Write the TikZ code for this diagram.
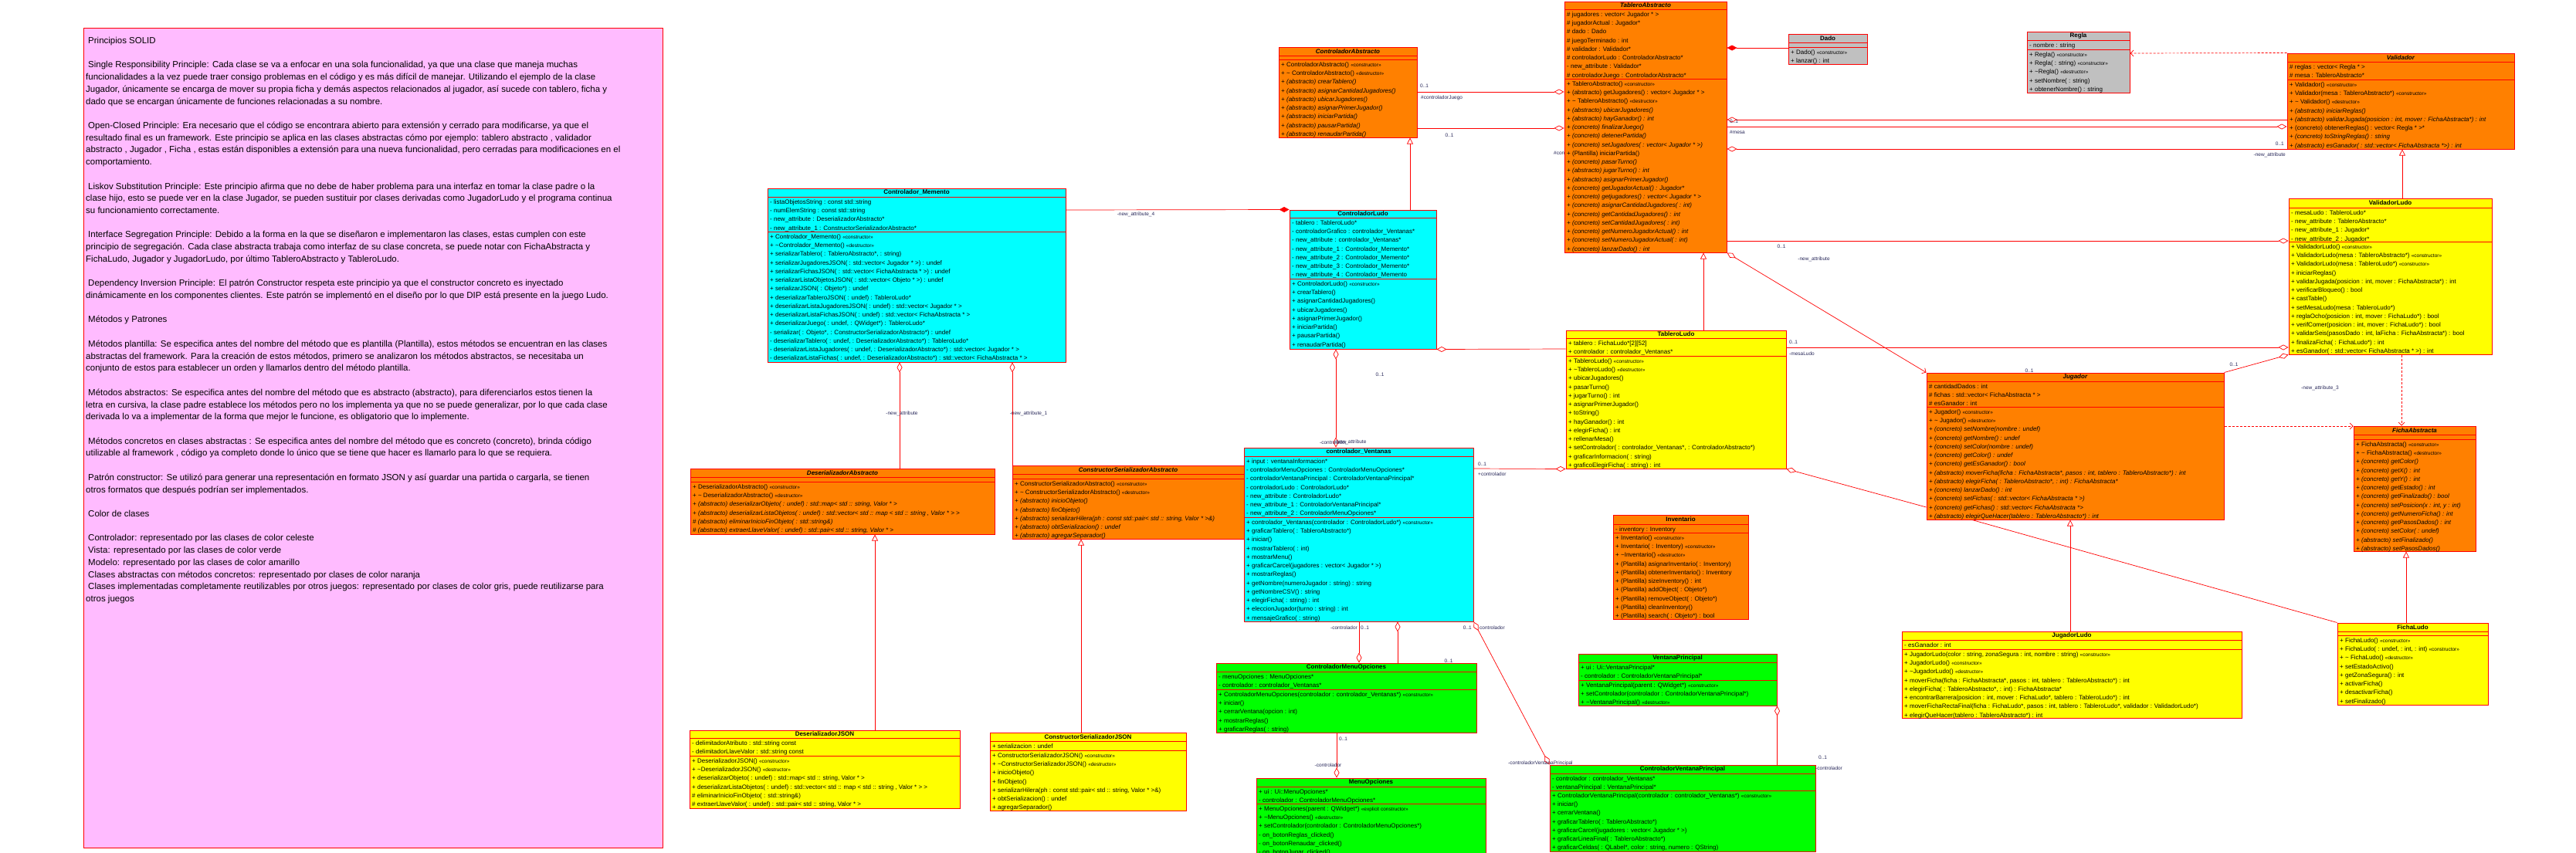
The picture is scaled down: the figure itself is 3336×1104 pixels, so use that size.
\documentclass[tikz,border=0pt]{standalone}
\usepackage{fontspec}
\setmainfont{Liberation Sans}
\usetikzlibrary{arrows.meta,fit}
\definecolor{cOr}{RGB}{255,128,0}
\definecolor{cCy}{RGB}{0,255,255}
\definecolor{cYe}{RGB}{255,255,0}
\definecolor{cGr}{RGB}{0,255,0}
\definecolor{cGy}{RGB}{192,192,192}
\definecolor{cPk}{RGB}{255,187,255}
\definecolor{cRd}{RGB}{255,0,0}
\definecolor{cLb}{RGB}{40,40,90}
\newcommand\rowfont{\fontsize{8}{11.25}\selectfont}
\newcommand\stereo[1]{{\fontsize{6.5}{7}\selectfont «#1»}}
\newcommand\tld{\textasciitilde}
\newcommand\ii[1]{\textit{#1}}
\tikzset{
  cls/.style={draw=cRd, line width=1pt, inner sep=0pt},
  sepl/.style={draw=cRd, line width=1pt},
  hdr/.style={font=\fontsize{8}{9}\selectfont\bfseries, inner sep=0pt},
  rowtext/.style={font=\rowfont, align=left, inner sep=0pt, anchor=north west},
  notetext/.style={font=\fontsize{11.5}{15.72}\selectfont, align=left, inner sep=0pt, anchor=north west},
  lab/.style={font=\fontsize{6.5}{7}\selectfont, text=cLb, inner sep=0pt},
  conn/.style={draw=cRd, line width=0.7pt},
  odia/.tip={Diamond[fill=white,length=13pt,width=7pt]},
  fdia/.tip={Diamond[length=13pt,width=7pt]},
  tri/.tip={Triangle[fill=white,length=8pt,width=8pt]},
  barb/.tip={Straight Barb[length=4pt,width=8pt]},
  dep/.style={draw=cRd, line width=0.7pt, dash pattern=on 3pt off 2pt, -barb},
}
% name, x1, y1, x2, y-header, y-attrs, y2, colour, header
\newcommand\uclass[9]{%
  \node[cls, fill=#8, fit={(#2,#3) (#4,#7)}] (#1) {};
  \draw[sepl] (#2,#5) -- (#4,#5);
  \draw[sepl] (#2,#6) -- (#4,#6);
  \node[hdr] (#1-h) at ({(#2+#4)/2},{(#3+#5)/2}) {#9};
  \coordinate (#1-a) at ({#2+3},{#5+0.5});
  \coordinate (#1-m) at ({#2+3},{#6+0.5});
}
\newcommand\utext[2]{\node[rowtext] (#1-t) at (#1) {\rule{0pt}{8.6pt}#2};}
\begin{document}
\begin{tikzpicture}[x=1pt,y=-1pt]
\fill[white] (0,0) rectangle (3336,1104);
\useasboundingbox (0,0) rectangle (3336,1104);

% note
\node[fit={(108,36) (858,1098)}, draw=cRd, fill=cPk, inner sep=0pt, line width=0.8pt] (note) {};
\node[notetext] (notetxt) at (111,44) {\rule{0pt}{12.2pt}\hspace{3pt}Principios SOLID\\
\mbox{}\\
\hspace{3pt}Single Responsibility Principle: Cada clase se va a enfocar en una sola funcionalidad, ya que una clase que maneja muchas\\
funcionalidades a la vez puede traer consigo problemas en el código y es más difícil de manejar. Utilizando el ejemplo de la clase\\
Jugador, únicamente se encarga de mover su propia ficha y demás aspectos relacionados al jugador, así sucede con tablero, ficha y\\
dado que se encargan únicamente de funciones relacionadas a su nombre.\\
\mbox{}\\
\hspace{3pt}Open-Closed Principle: Era necesario que el código se encontrara abierto para extensión y cerrado para modificarse, ya que el\\
resultado final es un framework. Este principio se aplica en las clases abstractas cómo por ejemplo: tablero abstracto , validador\\
abstracto , Jugador , Ficha , estas están disponibles a extensión para una nueva funcionalidad, pero cerradas para modificaciones en el\\
comportamiento.\\
\mbox{}\\
\hspace{3pt}Liskov Substitution Principle: Este principio afirma que no debe de haber problema para una interfaz en tomar la clase padre o la\\
clase hijo, esto se puede ver en la clase Jugador, se pueden sustituir por clases derivadas como JugadorLudo y el programa continua\\
su funcionamiento correctamente.\\
\mbox{}\\
\hspace{3pt}Interface Segregation Principle: Debido a la forma en la que se diseñaron e implementaron las clases, estas cumplen con este\\
principio de segregación. Cada clase abstracta trabaja como interfaz de su clase concreta, se puede notar con FichaAbstracta y\\
FichaLudo, Jugador y JugadorLudo, por último TableroAbstracto y TableroLudo.\\
\mbox{}\\
\hspace{3pt}Dependency Inversion Principle: El patrón Constructor respeta este principio ya que el constructor concreto es inyectado\\
dinámicamente en los componentes clientes. Este patrón se implementó en el diseño por lo que DIP está presente en la juego Ludo.\\
\mbox{}\\
\hspace{3pt}Métodos y Patrones\\
\mbox{}\\
\hspace{3pt}Métodos plantilla: Se especifica antes del nombre del método que es plantilla (Plantilla), estos métodos se encuentran en las clases\\
abstractas del framework. Para la creación de estos métodos, primero se analizaron los métodos abstractos, se necesitaba un\\
conjunto de estos para establecer un orden y llamarlos dentro del método plantilla.\\
\mbox{}\\
\hspace{3pt}Métodos abstractos: Se especifica antes del nombre del método que es abstracto (abstracto), para diferenciarlos estos tienen la\\
letra en cursiva, la clase padre establece los métodos pero no los implementa ya que no se puede generalizar, por lo que cada clase\\
derivada lo va a implementar de la forma que mejor le funcione, es obligatorio que lo implemente.\\
\mbox{}\\
\hspace{3pt}Métodos concretos en clases abstractas : Se especifica antes del nombre del método que es concreto (concreto), brinda código\\
utilizable al framework , código ya completo donde lo único que se tiene que hacer es llamarlo para lo que se requiera.\\
\mbox{}\\
\hspace{3pt}Patrón constructor: Se utilizó para generar una representación en formato JSON y así guardar una partida o cargarla, se tienen\\
otros formatos que después podrían ser implementados.\\
\mbox{}\\
\hspace{3pt}Color de clases\\
\mbox{}\\
\hspace{3pt}Controlador: representado por las clases de color celeste\\
\hspace{3pt}Vista: representado por las clases de color verde\\
\hspace{3pt}Modelo: representado por las clases de color amarillo\\
\hspace{3pt}Clases abstractas con métodos concretos: representado por clases de color naranja\\
\hspace{3pt}Clases implementadas completamente reutilizables por otros juegos: representado por clases de color gris, puede reutilizarse para\\
otros juegos};

% label hidden behind TableroAbstracto
\node[lab, anchor=west] (l4) at (2012,198) {\#controladorLudo};

% ---------- classes ----------
\uclass{CA}{1656}{61}{1835}{72}{77}{178}{cOr}{\ii{ControladorAbstracto}}
\utext{CA-m}{+ ControladorAbstracto() \stereo{constructor}\\
+ \tld{} ControladorAbstracto() \stereo{destructor}\\
\ii{+ (abstracto) crearTablero()}\\
\ii{+ (abstracto) asignarCantidadJugadores()}\\
\ii{+ (abstracto) ubicarJugadores()}\\
\ii{+ (abstracto) asignarPrimerJugador()}\\
\ii{+ (abstracto) iniciarPartida()}\\
\ii{+ (abstracto) pausarPartida()}\\
\ii{+ (abstracto) renaudarPartida()}}

\uclass{TA}{2026}{2}{2236}{12}{102}{327}{cOr}{\ii{TableroAbstracto}}
\utext{TA-a}{\# jugadores : vector< Jugador * >\\
\# jugadorActual : Jugador*\\
\# dado : Dado\\
\# juegoTerminado : int\\
\# validador : Validador*\\
\# controladorLudo : ControladorAbstracto*\\
- new\_attribute : Validador*\\
\# controladorJuego : ControladorAbstracto*}
\utext{TA-m}{+ TableroAbstracto() \stereo{constructor}\\
+ (abstracto) getJugadores() : vector< Jugador * >\\
+ \tld{} TableroAbstracto() \stereo{destructor}\\
\ii{+ (abstracto) ubicarJugadores()}\\
\ii{+ (abstracto) hayGanador() : int}\\
\ii{+ (concreto) finalizarJuego()}\\
\ii{+ (concreto) detenerPartida()}\\
\ii{+ (concreto) setJugadores( : vector< Jugador * >)}\\
+ (Plantilla) iniciarPartida()\\
\ii{+ (concreto) pasarTurno()}\\
\ii{+ (abstracto) jugarTurno() : int}\\
\ii{+ (abstracto) asignarPrimerJugador()}\\
\ii{+ (concreto) getJugadorActual() : Jugador*}\\
\ii{+ (concreto) getjugadores() : vector< Jugador * >}\\
\ii{+ (concreto) asignarCantidadJugadores( : int)}\\
\ii{+ (concreto) getCantidadJugadores() : int}\\
\ii{+ (concreto) setCantidadJugadores( : int)}\\
\ii{+ (concreto) getNumeroJugadorActual() : int}\\
\ii{+ (concreto) setNumeroJugadorActual( : int)}\\
\ii{+ (concreto) lanzarDado() : int}}

\uclass{Dado}{2316}{44}{2418}{55}{61}{83}{cGy}{Dado}
\utext{Dado-m}{+ Dado() \stereo{constructor}\\
+ lanzar() : int}

\uclass{Regla}{2625}{41}{2758}{52}{64}{120}{cGy}{Regla}
\utext{Regla-a}{- nombre : string}
\utext{Regla-m}{+ Regla() \stereo{constructor}\\
+ Regla( : string) \stereo{constructor}\\
+ \tld Regla() \stereo{destructor}\\
+ setNombre( : string)\\
+ obtenerNombre() : string}

\uclass{Val}{2962}{69}{3256}{80}{103}{193}{cOr}{\ii{Validador}}
\utext{Val-a}{\# reglas : vector< Regla * >\\
\# mesa : TableroAbstracto*}
\utext{Val-m}{+ Validador() \stereo{constructor}\\
+ Validador(mesa : TableroAbstracto*) \stereo{constructor}\\
+ \tld{} Validador() \stereo{destructor}\\
\ii{+ (abstracto) iniciarReglas()}\\
\ii{+ (abstracto) validarJugada(posicion : int, mover : FichaAbstracta*) : int}\\
+ (concreto) obtenerReglas() : vector< Regla * >*\\
\ii{+ (concreto) toStringReglas() : string}\\
\ii{+ (abstracto) esGanador( : std::vector< FichaAbstracta *>) : int}}

\uclass{VL}{2964}{257}{3227}{269}{313}{459}{cYe}{ValidadorLudo}
\utext{VL-a}{- mesaLudo : TableroLudo*\\
- new\_attribute : TableroAbstracto*\\
- new\_attribute\_1 : Jugador*\\
- new\_attribute\_2 : Jugador*}
\utext{VL-m}{+ ValidadorLudo() \stereo{constructor}\\
+ ValidadorLudo(mesa : TableroAbstracto*) \stereo{constructor}\\
+ ValidadorLudo(mesa : TableroLudo*) \stereo{constructor}\\
+ iniciarReglas()\\
+ validarJugada(posicion : int, mover : FichaAbstracta*) : int\\
+ verificarBloqueo() : bool\\
+ castTable()\\
+ setMesaLudo(mesa : TableroLudo*)\\
+ reglaOcho(posicion : int, mover : FichaLudo*) : bool\\
+ verifComer(posicion : int, mover : FichaLudo*) : bool\\
+ validarSeis(pasosDado : int, laFicha : FichaAbstracta*) : bool\\
+ finalizaFicha( : FichaLudo*) : int\\
+ esGanador( : std::vector< FichaAbstracta * >) : int}

\uclass{TL}{2028}{428}{2313}{438}{461}{607}{cYe}{TableroLudo}
\utext{TL-a}{+ tablero : FichaLudo*[2][52]\\
+ controlador : controlador\_Ventanas*}
\utext{TL-m}{+ TableroLudo() \stereo{constructor}\\
+ \tld TableroLudo() \stereo{destructor}\\
+ ubicarJugadores()\\
+ pasarTurno()\\
+ jugarTurno() : int\\
+ asignarPrimerJugador()\\
+ toString()\\
+ hayGanador() : int\\
+ elegirFicha() : int\\
+ rellenarMesa()\\
+ setControlador( : controlador\_Ventanas*, : ControladorAbstracto*)\\
+ graficarInformacion( : string)\\
+ graficoElegirFicha( : string) : int}

\uclass{Jug}{2495}{483}{2880}{494}{527}{673}{cOr}{\ii{Jugador}}
\utext{Jug-a}{\# cantidadDados : int\\
\# fichas : std::vector< FichaAbstracta * >\\
\# esGanador : int}
\utext{Jug-m}{+ Jugador() \stereo{constructor}\\
+ \tld{} Jugador() \stereo{destructor}\\
\ii{+ (concreto) setNombre(nombre : undef)}\\
\ii{+ (concreto) getNombre() : undef}\\
\ii{+ (concreto) setColor(nombre : undef)}\\
\ii{+ (concreto) getColor() : undef}\\
\ii{+ (concreto) getEsGanador() : bool}\\
\ii{+ (abstracto) moverFicha(ficha : FichaAbstracta*, pasos : int, tablero : TableroAbstracto*) : int}\\
\ii{+ (abstracto) elegirFicha( : TableroAbstracto*, : int) : FichaAbstracta*}\\
\ii{+ (concreto) lanzarDado() : int}\\
\ii{+ (concreto) setFichas( : std::vector< FichaAbstracta * >)}\\
\ii{+ (concreto) getFichas() : std::vector< FichaAbstracta *>}\\
\ii{+ (abstracto) elegirQueHacer(tablero : TableroAbstracto*) : int}}

\uclass{FA}{3048}{552}{3206}{563}{569}{714}{cOr}{\ii{FichaAbstracta}}
\utext{FA-m}{+ FichaAbstracta() \stereo{constructor}\\
+ \tld{} FichaAbstracta() \stereo{destructor}\\
\ii{+ (concreto) getColor()}\\
\ii{+ (concreto) getX() : int}\\
\ii{+ (concreto) getY() : int}\\
\ii{+ (concreto) getEstado() : int}\\
\ii{+ (concreto) getFinalizado() : bool}\\
\ii{+ (concreto) setPosicion(x : int, y : int)}\\
\ii{+ (concreto) getNumeroFicha() : int}\\
\ii{+ (concreto) getPasosDados() : int}\\
\ii{+ (concreto) setColor( : undef)}\\
\ii{+ (abstracto) setFinalizado()}\\
\ii{+ (abstracto) setPasosDados()}}

\uclass{Inv}{2089}{667}{2264}{679}{690}{802}{cOr}{Inventario}
\utext{Inv-a}{- inventory : Inventory}
\utext{Inv-m}{+ Inventario() \stereo{constructor}\\
+ Inventario( : Inventory) \stereo{constructor}\\
+ \tld Inventario() \stereo{destructor}\\
+ (Plantilla) asignarInventario( : Inventory)\\
+ (Plantilla) obtenerInventario() : Inventory\\
+ (Plantilla) sizeInventory() : int\\
+ (Plantilla) addObject( : Objeto*)\\
+ (Plantilla) removeObject( : Objeto*)\\
+ (Plantilla) cleanInventory()\\
+ (Plantilla) search( : Objeto*) : bool}

\uclass{JL}{2463}{818}{2903}{829}{841}{930}{cYe}{JugadorLudo}
\utext{JL-a}{- esGanador : int}
\utext{JL-m}{+ JugadorLudo(color : string, zonaSegura : int, nombre : string) \stereo{constructor}\\
+ JugadorLudo() \stereo{constructor}\\
+ \tld JugadorLudo() \stereo{destructor}\\
+ moverFicha(ficha : FichaAbstracta*, pasos : int, tablero : TableroAbstracto*) : int\\
+ elegirFicha( : TableroAbstracto*, : int) : FichaAbstracta*\\
+ encontrarBarrera(posicion : int, mover : FichaLudo*, tablero : TableroLudo*) : int\\
+ moverFichaRectaFinal(ficha : FichaLudo*, pasos : int, tablero : TableroLudo*, validador : ValidadorLudo*)\\
+ elegirQueHacer(tablero : TableroAbstracto*) : int}

\uclass{FL}{3027}{807}{3222}{818}{823}{913}{cYe}{FichaLudo}
\utext{FL-m}{+ FichaLudo() \stereo{constructor}\\
+ FichaLudo( : undef, : int, : int) \stereo{constructor}\\
+ \tld{} FichaLudo() \stereo{destructor}\\
+ setEstadoActivo()\\
+ getZonaSegura() : int\\
+ activarFicha()\\
+ desactivarFicha()\\
+ setFinalizado()}

\uclass{VP}{2044}{847}{2301}{858}{881}{914}{cGr}{VentanaPrincipal}
\utext{VP-a}{+ ui : Ui::VentanaPrincipal*\\
- controlador : ControladorVentanaPrincipal*}
\utext{VP-m}{+ VentanaPrincipal(parent : QWidget*) \stereo{constructor}\\
+ setControlador(controlador : ControladorVentanaPrincipal*)\\
+ \tld VentanaPrincipal() \stereo{destructor}}

\uclass{CVP}{2007}{991}{2351}{1002}{1024}{1103}{cGr}{ControladorVentanaPrincipal}
\utext{CVP-a}{- controlador : controlador\_Ventanas*\\
- ventanaPrincipal : VentanaPrincipal*}
\utext{CVP-m}{+ ControladorVentanaPrincipal(controlador : controlador\_Ventanas*) \stereo{constructor}\\
+ iniciar()\\
+ cerrarVentana()\\
+ graficarTablero( : TableroAbstracto*)\\
+ graficarCarcel(jugadores : vector< Jugador * >)\\
+ graficarLineaFinal( : TableroAbstracto*)\\
+ graficarCeldas( : QLabel*, color : string, numero : QString)}

\uclass{CMO}{1575}{859}{1912}{870}{893}{949}{cGr}{ControladorMenuOpciones}
\utext{CMO-a}{- menuOpciones : MenuOpciones*\\
- controlador : controlador\_Ventanas*}
\utext{CMO-m}{+ ControladorMenuOpciones(controlador : controlador\_Ventanas*) \stereo{constructor}\\
+ iniciar()\\
+ cerrarVentana(opcion : int)\\
+ mostrarReglas()\\
+ graficarReglas( : string)}

\uclass{MO}{1627}{1008}{1924}{1019}{1041}{1110}{cGr}{MenuOpciones}
\utext{MO-a}{+ ui : Ui::MenuOpciones*\\
- controlador : ControladorMenuOpciones*}
\utext{MO-m}{+ MenuOpciones(parent : QWidget*) \stereo{explicit constructor}\\
+ \tld MenuOpciones() \stereo{destructor}\\
+ setControlador(controlador : ControladorMenuOpciones*)\\
- on\_botonReglas\_clicked()\\
- on\_botonRenaudar\_clicked()\\
- on\_botonJugar\_clicked()}

\uclass{CL}{1670}{272}{1860}{282}{361}{452}{cCy}{ControladorLudo}
\utext{CL-a}{- tablero : TableroLudo*\\
- controladorGrafico : controlador\_Ventanas*\\
- new\_attribute : controlador\_Ventanas*\\
- new\_attribute\_1 : Controlador\_Memento*\\
- new\_attribute\_2 : Controlador\_Memento*\\
- new\_attribute\_3 : Controlador\_Memento*\\
- new\_attribute\_4 : Controlador\_Memento}
\utext{CL-m}{+ ControladorLudo() \stereo{constructor}\\
+ crearTablero()\\
+ asignarCantidadJugadores()\\
+ ubicarJugadores()\\
+ asignarPrimerJugador()\\
+ iniciarPartida()\\
+ pausarPartida()\\
+ renaudarPartida()}

\uclass{CM}{994}{244}{1380}{255}{300}{469}{cCy}{Controlador\_Memento}
\utext{CM-a}{- listaObjetosString : const std::string\\
- numElemString : const std::string\\
- new\_attribute : DeserializadorAbstracto*\\
- new\_attribute\_1 : ConstructorSerializadorAbstracto*}
\utext{CM-m}{+ Controlador\_Memento() \stereo{constructor}\\
+ \tld Controlador\_Memento() \stereo{destructor}\\
+ serializarTablero( : TableroAbstracto*, : string)\\
+ serializarJugadoresJSON( : std::vector< Jugador * >) : undef\\
+ serializarFichasJSON( : std::vector< FichaAbstracta * >) : undef\\
+ serializarListaObjetosJSON( : std::vector< Objeto * >) : undef\\
+ serializarJSON( : Objeto*) : undef\\
+ deserializarTableroJSON( : undef) : TableroLudo*\\
+ deserializarListaJugadoresJSON( : undef) : std::vector< Jugador * >\\
+ deserializarListaFichasJSON( : undef) : std::vector< FichaAbstracta * >\\
+ deserializarJuego( : undef, : QWidget*) : TableroLudo*\\
- serializar( : Objeto*, : ConstructorSerializadorAbstracto*) : undef\\
- deserializarTablero( : undef, : DeserializadorAbstracto*) : TableroLudo*\\
- deserializarListaJugadores( : undef, : DeserializadorAbstracto*) : std::vector< Jugador * >\\
- deserializarListaFichas( : undef, : DeserializadorAbstracto*) : std::vector< FichaAbstracta * >}

\uclass{DA}{894}{607}{1288}{618}{624}{692}{cOr}{\ii{DeserializadorAbstracto}}
\utext{DA-m}{+ DeserializadorAbstracto() \stereo{constructor}\\
+ \tld{} DeserializadorAbstracto() \stereo{destructor}\\
\ii{+ (abstracto) deserializarObjeto( : undef) : std::map< std :: string, Valor * >}\\
\ii{+ (abstracto) deserializarListaObjetos( : undef) : std::vector< std :: map < std :: string , Valor * > >}\\
\ii{\# (abstracto) eliminarInicioFinObjeto( : std::string\&)}\\
\ii{\# (abstracto) extraerLlaveValor( : undef) : std::pair< std :: string, Valor * >}}

\uclass{CSA}{1311}{603}{1611}{614}{620}{698}{cOr}{\ii{ConstructorSerializadorAbstracto}}
\utext{CSA-m}{+ ConstructorSerializadorAbstracto() \stereo{constructor}\\
+ \tld{} ConstructorSerializadorAbstracto() \stereo{destructor}\\
\ii{+ (abstracto) inicioObjeto()}\\
\ii{+ (abstracto) finObjeto()}\\
\ii{+ (abstracto) serializarHilera(ph : const std::pair< std :: string, Valor * >\&)}\\
\ii{+ (abstracto) obtSerializacion() : undef}\\
\ii{+ (abstracto) agregarSeparador()}}

\uclass{cV}{1611}{580}{1908}{591}{670}{805}{cCy}{controlador\_Ventanas}
\utext{cV-a}{+ input : ventanaInformacion*\\
- controladorMenuOpciones : ControladorMenuOpciones*\\
- controladorVentanaPrincipal : ControladorVentanaPrincipal*\\
- controladorLudo : ControladorLudo*\\
- new\_attribute : ControladorLudo*\\
- new\_attribute\_1 : ControladorVentanaPrincipal*\\
- new\_attribute\_2 : ControladorMenuOpciones*}
\utext{cV-m}{+ controlador\_Ventanas(controlador : ControladorLudo*) \stereo{constructor}\\
+ graficarTablero( : TableroAbstracto*)\\
+ iniciar()\\
+ mostrarTablero( : int)\\
+ mostrarMenu()\\
+ graficarCarcel(jugadores : vector< Jugador * >)\\
+ mostrarReglas()\\
+ getNombre(numeroJugador : string) : string\\
+ getNombreCSV() : string\\
+ elegirFicha( : string) : int\\
+ eleccionJugador(turno : string) : int\\
+ mensajeGrafico( : string)}

\uclass{DJ}{893}{946}{1243}{956}{979}{1047}{cYe}{DeserializadorJSON}
\utext{DJ-a}{- delimitadorAtributo : std::string const\\
- delimitadorLlaveValor : std::string const}
\utext{DJ-m}{+ DeserializadorJSON() \stereo{constructor}\\
+ \tld DeserializadorJSON() \stereo{destructor}\\
+ deserializarObjeto( : undef) : std::map< std :: string, Valor * >\\
+ deserializarListaObjetos( : undef) : std::vector< std :: map < std :: string , Valor * > >\\
\# eliminarInicioFinObjeto( : std::string\&)\\
\# extraerLlaveValor( : undef) : std::pair< std :: string, Valor * >}

\uclass{CSJ}{1282}{949}{1536}{960}{972}{1050}{cYe}{ConstructorSerializadorJSON}
\utext{CSJ-a}{+ serializacion : undef}
\utext{CSJ-m}{+ ConstructorSerializadorJSON() \stereo{constructor}\\
+ \tld ConstructorSerializadorJSON() \stereo{destructor}\\
+ inicioObjeto()\\
+ finObjeto()\\
+ serializarHilera(ph : const std::pair< std :: string, Valor * >\&)\\
+ obtSerializacion() : undef\\
+ agregarSeparador()}

% ---------- connectors ----------
\begin{scope}[conn]
\draw[-odia] (CA.east |- 0,119) -- (TA.west |- 0,119);
\draw[-odia] (CA.east |- 0,166) -- (TA.west |- 0,166);
\draw[-tri] (CL.north -| 1826,0) -- (CA.south -| 1826,0);
\draw[-tri] (TL.north -| 2206,0) -- (TA.south -| 2206,0);
\draw[fdia-] (TA.east |- 0,62) -- (Dado.west |- 0,62);
\draw[odia-] (TA.east |- 0,155) -- (Val.west |- 0,155);
\draw[-odia] (TA.east |- 0,164) -- (Val.west |- 0,164);
\draw[odia-] (TA.east |- 0,193) -- (Val.west |- 0,193);
\draw[-odia] (TA.east |- 0,312) -- (VL.west |- 0,312);
\draw[-odia] (TL.east |- 0,450) -- (VL.west |- 0,450);
\draw[-odia] (Jug.north east) -- (VL.south west);
\draw[odia-barb] (TA.south east) -- (Jug.north west);
\draw[-tri] (VL.north -| 3111,0) -- (Val.south -| 3111,0);
\draw[dep] (VL.south -| 3110,0) -- (FA.north -| 3110,0);
\draw[dep] (Jug.east |- 0,552) -- (FA.west |- 0,552);
\draw[-tri] (FL.north -| 3116,0) -- (FA.south -| 3116,0);
\draw[-tri] (JL.north -| 2681,0) -- (Jug.south -| 2681,0);
\draw[odia-] (TL.south east) -- (Jug.west |- 0,657);
\draw (Jug.south -| 2554,0) -- (FL.north west);
\draw[-odia] (cV.east |- 0,607) -- (TL.south west);
\draw[-fdia] (CM.east |- 0,272) -- (CL.north west);
\draw[odia-odia] (CL.south -| 1730,0) -- (cV.north -| 1730,0);
\draw[odia-] (CL.south east) -- (TL.west |- 0,452);
\draw[odia-] (CM.south -| 1165,0) -- (DA.north -| 1165,0);
\draw[odia-] (CM.south -| 1311,0) -- (CSA.north -| 1311,0);
\draw[-tri] (DJ.north -| 1133,0) -- (DA.south -| 1133,0);
\draw[-tri] (CSJ.north -| 1400,0) -- (CSA.south -| 1400,0);
\draw[-odia] (cV.south -| 1760,0) -- (CMO.north -| 1760,0);
\draw[odia-] (cV.south -| 1810,0) -- (CMO.north -| 1810,0);
\draw[odia-odia] (cV.south east) -- (CVP.north west);
\draw[odia-] (VP.south east) -- (VP.south east |- CVP.north);
\draw[-odia] (CMO.south -| 1731,0) -- (MO.north -| 1731,0);
\draw[dep] (Val.north west) -- (Regla.east |- 0,69);
\end{scope}

% ---------- labels ----------
\node[lab, anchor=west] (l1) at (1839,111) {0..1};
\node[lab, anchor=west] (l2) at (1840,127) {\#controladorJuego};
\node[lab] (l3) at (1877,175) {0..1};
\node[lab, anchor=west] (l5) at (2240,157) {0..1};
\node[lab, anchor=west] (l6) at (2240,171) {\#mesa};
\node[lab, anchor=east] (l7) at (2958,186) {0..1};
\node[lab, anchor=east] (l8) at (2960,201) {-new\_attribute};
\node[lab] (l9) at (2307,319) {0..1};
\node[lab] (l10) at (2349,336) {-new\_attribute};
\node[lab, anchor=west] (l11) at (2317,443) {0..1};
\node[lab, anchor=west] (l12) at (2317,458) {-mesaLudo};
\node[lab] (l13) at (2893,472) {0..1};
\node[lab] (l14) at (2628,480) {0..1};
\node[lab, anchor=west] (l15) at (2980,503) {-new\_attribute\_3};
\node[lab, anchor=west] (l16) at (1914,601) {0..1};
\node[lab, anchor=west] (l17) at (1914,614) {+controlador};
\node[lab] (l18) at (1471,278) {-new\_attribute\_4};
\node[lab] (l19) at (1787,485) {0..1};
\node[lab, anchor=west] (l20) at (1709,573) {-controlador};
\node[lab, anchor=west] (l20b) at (1728,573) {-new\_attribute};
\node[lab] (l21) at (1168,536) {-new\_attribute};
\node[lab] (l22) at (1332,536) {-new\_attribute\_1};
\node[lab, anchor=east] (l23) at (1758,813) {-controlador};
\node[lab, anchor=west] (l24) at (1762,813) {0..1};
\node[lab, anchor=east] (l25) at (1906,813) {0..1};
\node[lab, anchor=west] (l26) at (1916,813) {controlador};
\node[lab] (l27) at (1876,856) {0..1};
\node[lab, anchor=west] (l28) at (1953,989) {-controladorVentanaPrincipal};
\node[lab, anchor=west] (l29) at (2355,981) {0..1};
\node[lab, anchor=west] (l30) at (2351,995) {-controlador};
\node[lab, anchor=west] (l31) at (1734,957) {0..1};
\node[lab] (l32) at (1720,991) {-controlador};
\end{tikzpicture}
\end{document}
